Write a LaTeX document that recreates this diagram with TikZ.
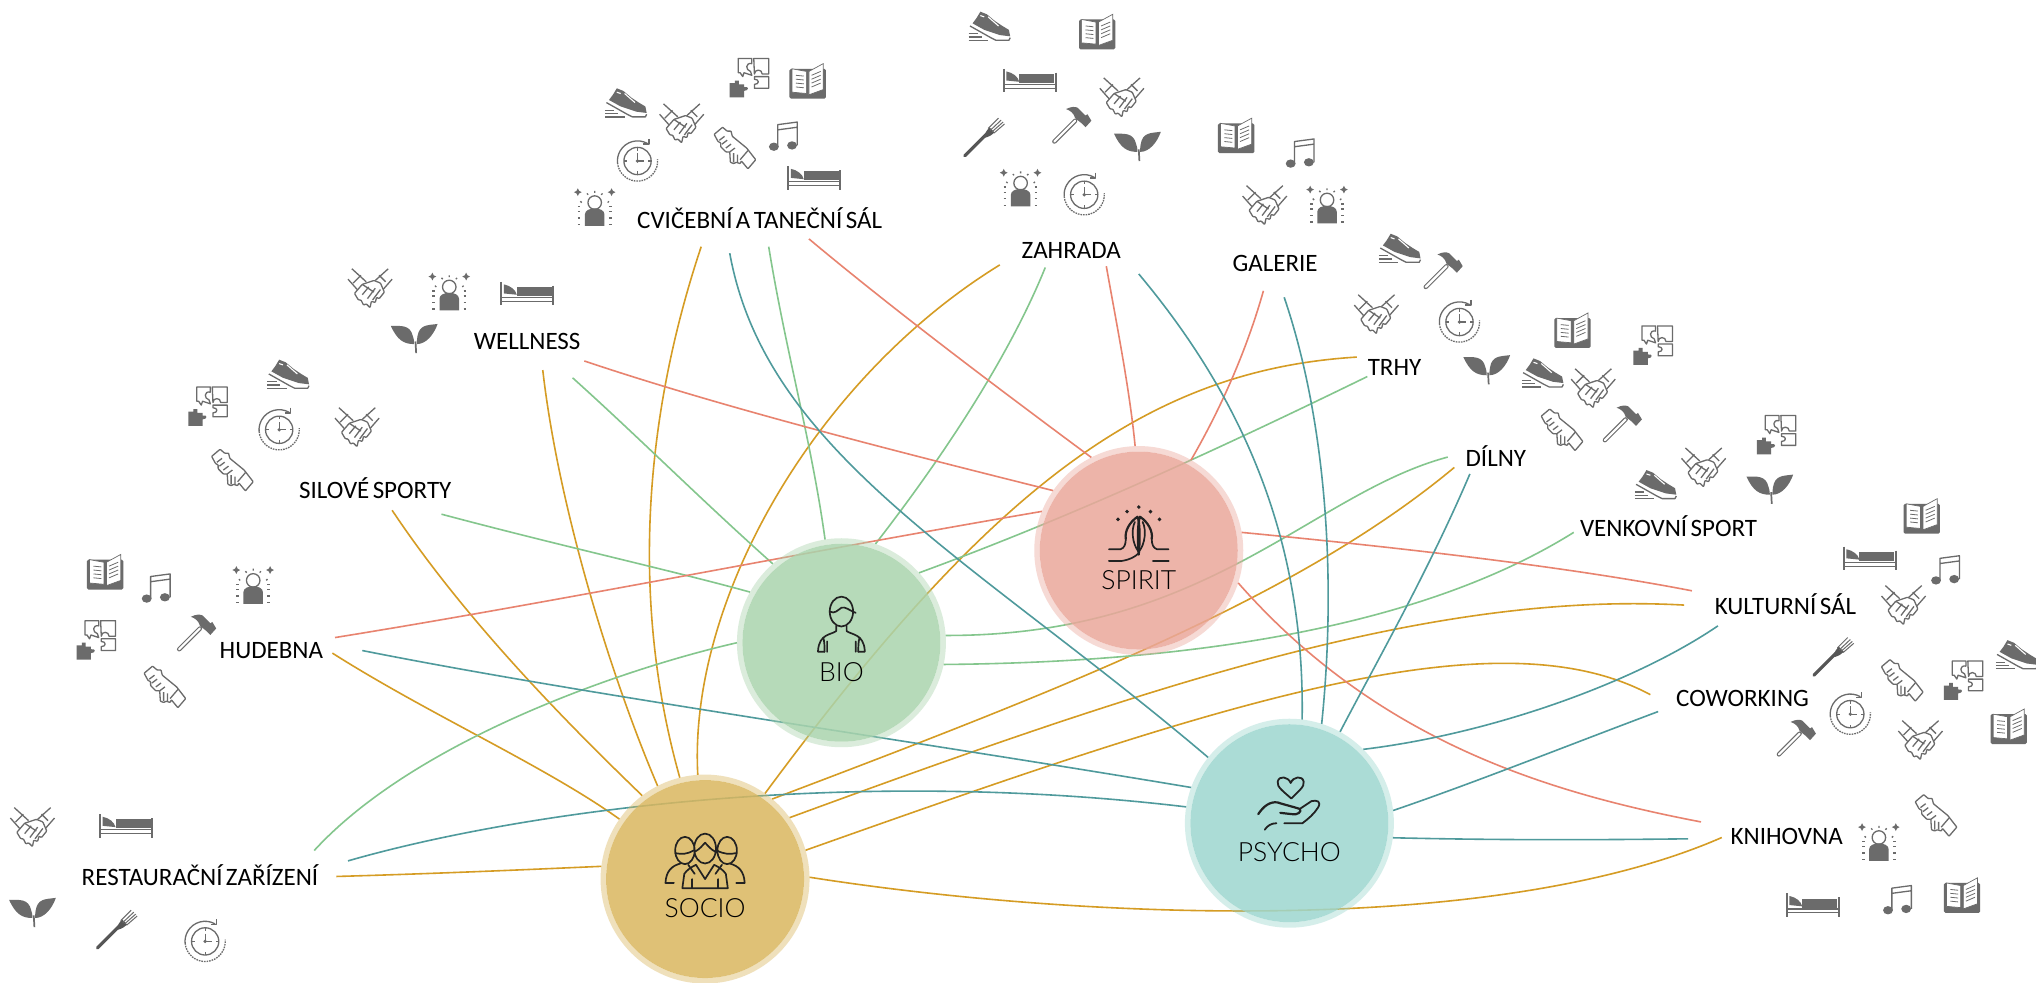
\documentclass[tikz,border=0pt]{standalone}
\usepackage{fontspec}
\setmainfont{Carlito}[WordSpace=0.6]
\newfontfamily\lightf{Lato}[UprightFont=* Light]
\usetikzlibrary{calc}
\pgfdeclarelayer{links}
\pgfsetlayers{links,main}
\definecolor{ic}{HTML}{6B6B6B}
\definecolor{dk}{HTML}{222222}
\definecolor{cgold}{HTML}{D59C24}
\definecolor{cgreen}{HTML}{84C68D}
\definecolor{csalm}{HTML}{E8836F}
\definecolor{cteal}{HTML}{4F9A9C}
\definecolor{hspirit}{HTML}{EBA79B}
\definecolor{hbio}{HTML}{AAD4AD}
\definecolor{hsocio}{HTML}{DAB75F}
\definecolor{hpsycho}{HTML}{9DD7CF}
\tikzset{
  lgold/.style={draw=cgold,line width=1.6pt},
  lgreen/.style={draw=cgreen,line width=1.6pt},
  lsalm/.style={draw=csalm,line width=1.6pt},
  lteal/.style={draw=cteal,line width=1.6pt},
  hubring/.style={circle,minimum size=203.5pt,inner sep=0pt,line width=5.5pt,draw=#1,draw opacity=.42},
  hubcore/.style={circle,minimum size=198pt,inner sep=0pt,outer sep=0pt,fill=#1,fill opacity=.85},
  place/.style={font=\fontsize{25}{28}\selectfont,text=black,inner sep=0pt},
  hubtext/.style={font=\lightf\fontsize{26.5}{28}\selectfont,text=black,inner sep=0pt},
  gl/.style={draw=ic,line width=1.3pt,line join=round},
  bl/.style={draw=dk,line width=1.7pt,line join=round,line cap=round},
  icshoe/.pic={
    \fill[ic] (-7,-12) -- (-2,-10) -- (4,-5) -- (10,-1) -- (15,2) -- (16,7) -- (8,6) -- (-4,2) -- (-13,-3) -- (-10,-7) -- cycle;
    \draw[white,line width=1.1pt] (-7,-9) -- (-4,-8) (-1,-8) -- (7,-1);
    \draw[gl] (-15,-1) -- (1,8) -- (5,10) -- (15,10) -- (16,8);
    \draw[gl] (-16,5) -- (-9,5) (-16,7.5) -- (-6,7.5) (-16,10) -- (-1,10);
  },
  icbook/.pic={
    \fill[ic,rounded corners=1.5pt] (-14,-9) rectangle (14,14);
    \filldraw[fill=white,draw=ic,line width=.7pt] (-12,-9) -- (-1,-7) -- (-1,10) -- (-12,9) -- cycle;
    \filldraw[fill=white,draw=ic,line width=.7pt] (1,-7) -- (12,-13) -- (12,7) -- (1,11) -- cycle;
    \foreach \i in {-4,-1,2,5}{
      \draw[ic,line width=.8pt] (-9,\i) -- (-3,\i+.6);
      \draw[ic,line width=.8pt] (3,\i) -- (10,\i-3);
    }
  },
  icpuz/.pic={
    \filldraw[gl,fill=white] (-8.5,-15) -- (2,-15) -- (2,-11) .. controls (-3,-12) and (-3,-6) .. (1,-5) -- (2,-2) -- (-4,-4) -- (-5,-1) -- (-7,-4) -- (-8.5,-4) -- cycle;
    \filldraw[gl,fill=white] (3.5,-15) -- (15,-15) -- (15,-3) -- (10,-3) .. controls (10,-7) and (4,-7) .. (4,-3) -- cycle;
    \filldraw[gl,fill=white] (4,-1) -- (15,-1) -- (15,8) -- (4,8) -- (4,5) .. controls (8,5) and (8,1) .. (4,1) -- cycle;
    \fill[ic] (-15,4) -- (-11,4) -- (-11,2) -- (-8,2) -- (-8,5) -- (-4,5) -- (-4,7) .. controls (0,6) and (0,10) .. (-4,10) -- (-4,15) -- (-15,15) -- cycle;
  },
  ichands/.pic={
    \draw[gl] (-14,-15) -- (-3,-5) (-17,-7) -- (-9,2) (14,-15) -- (4,-6) (17,-7) -- (10,1) (-13,-4) -- (-7,-10) (12,-5) -- (7,-10);
    \draw[gl,fill=white,rounded corners=.8pt] (-12,4) -- (-6,-3) -- (3,-6) -- (8,-4) -- (11,3) -- (7,8) -- (5,7) -- (4,11) -- (1,10) -- (0,15) -- (-3,12) -- (-5,13) -- (-7,9) -- (-9,9) -- cycle;
    \draw[gl] (-6,-3) -- (3,3) (-1,-1) -- (-6,5) (8,1) -- (2,9) (4,0) -- (-2,8);
  },
  icgrip/.pic={
    \draw[gl,fill=white,rounded corners=.6pt] (-16,-9.5) -- (-9.5,-15) -- (-6,-12) -- (-3,-12) -- (-2,-8) -- (9,1) -- (16,10) -- (10,17) -- (5,11) -- (4,13) -- (1,12) -- (-1,13) -- (-3.5,12) -- (-4,4) -- (-7,4) -- (-11,0) -- (-11,-3) -- (-13,-4) -- cycle;
    \draw[gl] (-12,-5) -- (-8,-8) (-10,-2) -- (-6,-5) (-7,1) -- (-3,-2) (-1,5) -- (-1,12) (2,6) -- (2,12) (-4,4) -- (0,1) (10,3) -- (4,10);
  },
  icnote/.pic={
    \fill[ic] (-8,9) ellipse (3.8 and 3.2) (6,8) ellipse (3.8 and 3.2);
    \draw[gl] (-5,9) -- (-5,-8) -- (10,-10) -- (10,8) (-5,-4) -- (10,-6);
  },
  icbed/.pic={
    \draw[ic,line width=1.8pt] (-20,-9) -- (-20,9) (20,-6) -- (20,9);
    \draw[ic,line width=1.2pt] (-20,3) -- (20,3) (-20,6) -- (20,6);
    \fill[ic] (-8,-5) rectangle (19,2);
    \fill[ic] (-18,-7) .. controls (-13,-6) and (-9,-3) .. (-8,1) -- (-18,0) -- cycle;
  },
  icclock/.pic={
    \draw[gl] (0,0) circle (10.5);
    \draw[gl] (0,-10.5) -- (0,-8) (0,10.5) -- (0,8) (-10.5,0) -- (-8,0) (10.5,0) -- (8,0) (0,-6) -- (0,0) -- (5,0);
    \fill[ic] (0,0) circle (1.4);
    \draw[gl] (-60:15.5) arc[start angle=-60,end angle=-185,radius=15.5];
    \draw[gl,dash pattern=on 1.6pt off 1pt] (-185:15.5) arc[start angle=-185,end angle=-365,radius=15.5];
    \draw[gl] (8.8,-17) -- (8.8,-13) -- (4.5,-13);
  },
  icperson/.pic={
    \fill[ic] (-7.5,14) -- (-7.5,5) .. controls (-7.5,-1) and (7.5,-1) .. (7.5,5) -- (7.5,14) -- cycle;
    \draw[gl] (0,-4) circle (5.2);
    \foreach \i in {-1,3,8,13}{ \draw[gl] (-13,\i) -- (-11,\i) (11,\i) -- (13,\i); }
    \draw[gl] (-6,-11) -- (-5,-10) (0,-13) -- (0,-11.5) (6,-11) -- (5,-10) (-11,-5) -- (-10,-4) (11,-5) -- (10,-4);
    \fill[ic] (-13,-15) -- (-12,-13) -- (-10,-12) -- (-12,-11) -- (-13,-9) -- (-14,-11) -- (-16,-12) -- (-14,-13) -- cycle;
    \fill[ic] (13,-15) -- (14,-13) -- (16,-12) -- (14,-11) -- (13,-9) -- (12,-11) -- (10,-12) -- (12,-13) -- cycle;
  },
  icleaf/.pic={
    \fill[ic] (-18,-10) .. controls (-10,-10) and (-3,-11) .. (-1,-2) .. controls (0,1) and (0,3) .. (0,4) .. controls (-8,4) and (-13,1) .. cycle;
    \fill[ic] (18,-11.5) .. controls (10,-10.5) and (4,-11) .. (2.5,-2) .. controls (2,1) and (2,3) .. (2,4) .. controls (9,4) and (15,-3) .. cycle;
    \draw[ic,line width=1.7pt] (1,2) -- (1.5,11);
  },
  ichammer/.pic={
    \draw[ic,line width=4.4pt,line cap=round] (-13,12) -- (3,-4);
    \draw[white,line width=2.2pt,line cap=round] (-13,12) -- (3,-4);
    \fill[ic] (-4,-13) .. controls (0,-15) and (3,-15) .. (5,-14) -- (11,-8) -- (12.5,-9) -- (15.5,-4) -- (11,1) -- (9,-1) -- (8,-2) -- (3,-6) .. controls (2,-10) and (-1,-12) .. cycle;
  },
  icfork/.pic={
    \draw[ic!80!black,line width=3.2pt,line cap=round] (-15,14) -- (2,-3);
    \fill[ic!80!black] (0,-1) .. controls (1,-4) and (2,-6) .. (4,-8) -- (8,-4) .. controls (6,-2) and (4,-1) .. (1,0) -- cycle;
    \draw[ic,line width=1pt] (3,-7) -- (11,-15) (4.5,-5.5) -- (13,-13.5) (6,-4.5) -- (14.5,-12) (7.5,-3.5) -- (15.6,-10.5);
  },
  biofig/.pic={
    \draw[bl] (0,-9) ellipse (9 and 11.5);
    \draw[bl] (-9,-9) .. controls (-5,-7) and (-3,-10) .. (0,-12) .. controls (3,-13) and (6,-10) .. (11,-8);
    \draw[bl] (-4,2) -- (-4,6) .. controls (-8,9) and (-17,8) .. (-18,21) -- (-18,22) -- (-13,22) (4,2) -- (4,6) .. controls (8,9) and (17,8) .. (18,21) -- (18,22) -- (13,22);
    \draw[bl] (-11,14) -- (-11,22) (11,14) -- (11,22) (-14,11) .. controls (-13,14) and (-13,18) .. (-13,22) (14,11) .. controls (13,14) and (13,18) .. (13,22);
  },
  spiritfig/.pic={
    \foreach \p in {(0,-20.5),(-9,-17),(9,-17),(-16,-11),(16,-11)}{ \fill[dk] \p circle (1.5); }
    \draw[bl,line width=2.2pt] (-10,4) .. controls (-11,-2) and (-7,-9) .. (-1,-13) .. controls (1,-9) and (1,6) .. (0,16);
    \draw[bl,line width=2.2pt] (10,4) .. controls (11,-2) and (7,-9) .. (1,-13) .. controls (-1,-9) and (-1,6) .. (0,16);
    \draw[bl] (-23,12) -- (-14,12) .. controls (-11,11) and (-10,8) .. (-10,4) (23,12) -- (14,12) .. controls (11,11) and (10,8) .. (10,4);
    \draw[bl] (-3,-9) .. controls (-6,-3) and (-5,8) .. (0,14) (3,-9) .. controls (6,-3) and (5,8) .. (0,14);
    \draw[bl] (-23,21) -- (-13,21) .. controls (-7,20) and (-3,18) .. (0,15);
    \draw[bl,line width=2.2pt] (11,21) -- (23,21);
  },
  sociofig/.pic={
    \draw[bl] (-15.5,-8) ellipse (7.5 and 10.5) (17,-8) ellipse (7.5 and 10.5) (0,-9.5) ellipse (8.4 and 11.5);
    \draw[bl] (-8,-7) .. controls (-4,-9) and (-2,-12) .. (0,-14) .. controls (2,-12) and (4,-9) .. (8,-7);
    \draw[bl] (-23,-6) .. controls (-18,-5) and (-14,-5) .. (-9,-8) (24,-6) .. controls (19,-5) and (15,-5) .. (9,-8);
    \draw[bl] (-19,2) .. controls (-26,4) and (-30,8) .. (-30.5,17) -- (-24,17) (19,2) .. controls (26,4) and (30,8) .. (30.5,17) -- (24,17);
    \draw[bl] (-17.5,21) -- (-16,10) .. controls (-14,7) and (-11,5) .. (-7,3) -- (0,14) -- (7,3) .. controls (11,5) and (14,7) .. (16,10) -- (17.5,21) -- cycle;
    \draw[bl] (-10,21) -- (-10,14) (10,21) -- (10,14) (-13,3) -- (-8,10) (13,3) -- (8,10);
  },
  psychofig/.pic={
    \draw[bl,line width=1.8pt] (1.5,-4) .. controls (-4,-9) and (-10,-13) .. (-9,-17) .. controls (-8,-22) and (-1,-21) .. (1,-16) .. controls (3,-21) and (10,-22) .. (11,-17) .. controls (12,-13) and (6,-9) .. (1.5,-4);
    \draw[bl,line width=2.2pt] (-24,8) .. controls (-20,2) and (-15,-2) .. (-9,-1) .. controls (-3,1) and (2,2) .. (8,4) .. controls (10,6) and (6,9) .. (2,8) -- (-7,7);
    \draw[bl,line width=1.8pt] (8,4) -- (17,-2) .. controls (21,-3) and (25,-2) .. (22,3) .. controls (19,8) and (14,12) .. (10,15) -- (-4,15);
    \draw[bl,line width=1.8pt] (-19,20) .. controls (-17,17) and (-14,15) .. (-10,15);
  },
}
\begin{document}
\begin{tikzpicture}[x=1.29847pt,y=-1.29847pt]
\useasboundingbox (0,0) rectangle (1568,757);
% places
\node[place] (cvic) at (585,168) {CVIČEBNÍ A TANEČNÍ SÁL};
\node[place] (zahr) at (825,193) {ZAHRADA};
\node[place] (gale) at (982,203) {GALERIE};
\node[place] (trhy) at (1074,283) {TRHY};
\node[place] (diln) at (1152,351) {DÍLNY};
\node[place] (venk) at (1285,405) {VENKOVNÍ SPORT};
\node[place] (kult) at (1375,465) {KULTURNÍ SÁL};
\node[place] (cowo) at (1342,538) {COWORKING};
\node[place] (knih) at (1376,644) {KNIHOVNA};
\node[place] (well) at (406,263) {WELLNESS};
\node[place] (silo) at (289,376) {SILOVÉ SPORTY};
\node[place] (hude) at (209,501) {HUDEBNA};
\node[place] (rest) at (154,674) {RESTAURAČNÍ ZAŘÍZENÍ};
% hubs
\node[hubcore=hsocio] (sociocore) at (543,677) {};
\node[hubring=hsocio] (socio) at (543,677) {};
\node[hubcore=hbio] (biocore) at (648,495) {};
\node[hubring=hbio] (bio) at (648,495) {};
\node[hubcore=hspirit] (spiritcore) at (877,424) {};
\node[hubring=hspirit] (spirit) at (877,424) {};
\node[hubcore=hpsycho] (psychocore) at (993,634) {};
\node[hubring=hpsycho] (psycho) at (993,634) {};
\begin{pgfonlayer}{links}
\fill[white] (0,0) rectangle (1568,757);
% gold links
\draw[lgold] ($(silo)+(13,17)$) .. controls (360,480) and (440,560) .. (socio.127);
\draw[lgold] ($(hude)+(47,2)$) .. controls (330,550) and (420,590) .. (socio.145);
\draw[lgold] ($(well)+(12,22)$) .. controls (430,390) and (470,520) .. (socio.117);
\draw[lgold] ($(cvic)+(-45,22)$) .. controls (490,340) and (490,480) .. (socio.104);
\draw[lgold] ($(zahr)+(-55,11)$) .. controls (630,290) and (530,460) .. (socio.94);
\draw[lgold] ($(trhy)+(-29,-8)$) .. controls (880,285) and (760,380) .. (socio.55);
\draw[lgold] ($(diln)+(-32,9)$) .. controls (1000,460) and (820,530) .. (socio.50);
\draw[lgold] ($(kult)+(-78,1)$) .. controls (1100,455) and (880,530) .. (socio.36);
\draw[lgold] ($(cowo)+(-71,-3)$) .. controls (1150,470) and (930,545) .. (socio.16);
\draw[lgold] ($(knih)+(-50,1)$) .. controls (1150,722) and (830,708) .. (socio.1);
\draw[lgold] ($(rest)+(105,1)$) .. controls (330,673) and (400,670) .. (socio.173);
% green links
\draw[lgreen] ($(cvic)+(7,22)$) .. controls (605,270) and (625,340) .. (bio.99);
\draw[lgreen] ($(zahr)+(-20,13)$) .. controls (775,280) and (720,360) .. (bio.71);
\draw[lgreen] ($(well)+(35,28)$) .. controls (490,335) and (540,385) .. (bio.131);
\draw[lgreen] ($(silo)+(51,20)$) .. controls (430,420) and (520,440) .. (bio.151);
\draw[lgreen] ($(trhy)+(-21,7)$) .. controls (930,350) and (820,400) .. (bio.42);
\draw[lgreen] ($(diln)+(-37,1)$) .. controls (1010,380) and (930,490) .. (bio.4);
\draw[lgreen] ($(venk)+(-73,5)$) .. controls (1100,480) and (930,510) .. (bio.-12);
\draw[lgreen] ($(rest)+(88,-19)$) .. controls (320,570) and (480,515) .. (bio.180);
% salmon links
\draw[lsalm] ($(cvic)+(38,16)$) .. controls (690,240) and (770,300) .. (spirit.117);
\draw[lsalm] ($(zahr)+(27,12)$) .. controls (860,250) and (870,300) .. (spirit.92);
\draw[lsalm] ($(gale)+(-9,21)$) .. controls (960,270) and (940,315) .. (spirit.60);
\draw[lsalm] ($(well)+(44,15)$) .. controls (560,315) and (700,350) .. (spirit.145);
\draw[lsalm] ($(hude)+(49,-10)$) .. controls (420,465) and (620,425) .. (spirit.158);
\draw[lsalm] ($(kult)+(-72,-10)$) .. controls (1200,435) and (1060,420) .. (spirit.10);
\draw[lsalm] ($(knih)+(-66,-11)$) .. controls (1190,610) and (1060,570) .. (spirit.-18);
% teal links
\draw[lteal] ($(cvic)+(-23,27)$) .. controls (590,350) and (750,430) .. (psycho.141);
\draw[lteal] ($(zahr)+(52,18)$) .. controls (960,310) and (1005,420) .. (psycho.83);
\draw[lteal] ($(gale)+(7,26)$) .. controls (1020,320) and (1030,440) .. (psycho.72);
\draw[lteal] ($(diln)+(-20,14)$) .. controls (1100,440) and (1060,510) .. (psycho.61);
\draw[lteal] ($(kult)+(-52,17)$) .. controls (1260,525) and (1150,565) .. (psycho.45);
\draw[lteal] ($(cowo)+(-65,10)$) .. controls (1205,575) and (1135,603) .. (psycho.7);
\draw[lteal] ($(knih)+(-76,2)$) .. controls (1220,647) and (1150,647) .. (psycho.-8);
\draw[lteal] ($(hude)+(70,0)$) .. controls (450,535) and (700,570) .. (psycho.160);
\draw[lteal] ($(rest)+(114,-11)$) .. controls (400,625) and (650,590) .. (psycho.171);
\end{pgfonlayer}
\node[hubtext] (tsocio) at (543,699) {SOCIO};
\node[hubtext] (tbio) at (648,518) {BIO};
\node[hubtext] (tspirit) at (877,447) {SPIRIT};
\node[hubtext] (tpsycho) at (993,656) {PSYCHO};
\pic at (543,663) {sociofig};
\pic at (648,480) {biofig};
\pic at (877,411) {spiritfig};
\pic at (993,619) {psychofig};
% icons: cvicebni
\pic at (482,80) {icshoe}; \pic at (525,95) {ichands}; \pic at (577,60) {icpuz}; \pic at (622,62) {icbook};
\pic at (566,113) {icgrip}; \pic at (604,104) {icnote}; \pic at (627,137) {icbed}; \pic at (491,124) {icclock}; \pic at (458,160) {icperson};
% zahrada
\pic at (762,21) {icshoe}; \pic at (845,24) {icbook}; \pic at (793,62) {icbed}; \pic at (864,75) {ichands};
\pic at (758,106) {icfork}; \pic at (825,97) {ichammer}; \pic at (876,113) {icleaf}; \pic at (786,145) {icperson}; \pic at (835,150) {icclock};
% galerie
\pic at (952,104) {icbook}; \pic at (1002,117) {icnote}; \pic at (974,158) {ichands}; \pic at (1022,158) {icperson};
% trhy
\pic at (1078,192) {icshoe}; \pic at (1111,209) {ichammer}; \pic at (1060,242) {ichands}; \pic at (1124,248) {icclock}; \pic at (1145,285) {icleaf};
% dilny
\pic at (1211,254) {icbook}; \pic at (1273,266) {icpuz}; \pic at (1188,288) {icshoe}; \pic at (1227,299) {ichands}; \pic at (1203,330) {icgrip}; \pic at (1249,327) {ichammer};
% venkovni
\pic at (1368,335) {icpuz}; \pic at (1312,360) {ichands}; \pic at (1275,374) {icshoe}; \pic at (1363,377) {icleaf};
% kulturni
\pic at (1480,397) {icbook}; \pic at (1440,430) {icbed}; \pic at (1499,438) {icnote}; \pic at (1466,466) {ichands};
% coworking
\pic at (1412,506) {icfork}; \pic at (1465,523) {icgrip}; \pic at (1512,524) {icpuz}; \pic at (1553,505) {icshoe};
\pic at (1425,550) {icclock}; \pic at (1383,569) {ichammer}; \pic at (1479,570) {ichands}; \pic at (1547,559) {icbook};
% knihovna
\pic at (1491,627) {icgrip}; \pic at (1447,649) {icperson}; \pic at (1396,697) {icbed}; \pic at (1462,692) {icnote}; \pic at (1511,689) {icbook};
% wellness
\pic at (285,222) {ichands}; \pic at (346,225) {icperson}; \pic at (406,226) {icbed}; \pic at (319,261) {icleaf};
% silove
\pic at (222,289) {icshoe}; \pic at (160,313) {icpuz}; \pic at (215,331) {icclock}; \pic at (275,329) {ichands}; \pic at (179,361) {icgrip};
% hudebna
\pic at (81,440) {icbook}; \pic at (121,452) {icnote}; \pic at (195,451) {icperson}; \pic at (74,493) {icpuz}; \pic at (151,488) {ichammer}; \pic at (127,528) {icgrip};
% restauracni
\pic at (25,637) {ichands}; \pic at (97,636) {icbed}; \pic at (25,703) {icleaf}; \pic at (90,716) {icfork}; \pic at (158,725) {icclock};
\end{tikzpicture}
\end{document}
